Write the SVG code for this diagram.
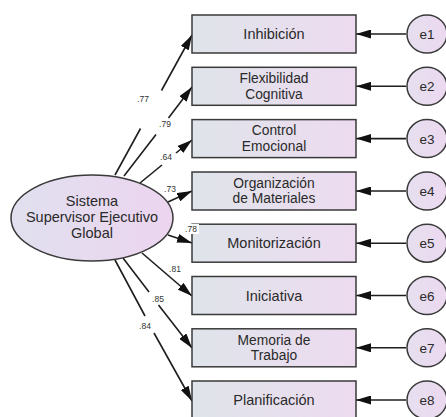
<svg xmlns="http://www.w3.org/2000/svg" width="446" height="417" viewBox="0 0 446 417">
<defs>
<linearGradient id="gBox" x1="0" y1="0" x2="1" y2="0">
<stop offset="0" stop-color="#dfe4ea"/>
<stop offset="1" stop-color="#eddbf0"/>
</linearGradient>
<linearGradient id="gEll" x1="0" y1="0" x2="1" y2="0">
<stop offset="0" stop-color="#e1e0ef"/>
<stop offset="1" stop-color="#ecd5ef"/>
</linearGradient>
<linearGradient id="gErr" x1="0" y1="0" x2="1" y2="0">
<stop offset="0" stop-color="#e6e0ef"/>
<stop offset="1" stop-color="#ecd8f0"/>
</linearGradient>
<marker id="ah" markerWidth="15" markerHeight="9" refX="15" refY="4.5" orient="auto" markerUnits="userSpaceOnUse">
<path d="M0,0 L15,4.5 L0,9 Z" fill="#111"/>
</marker>
</defs>
<style>
.box{fill:url(#gBox);stroke:#3a3a3a;stroke-width:1.5}
.err{fill:url(#gErr);stroke:#3a3a3a;stroke-width:1.5}
.lat{fill:url(#gEll);stroke:#3a3a3a;stroke-width:1.5}
.t{font-family:"Liberation Sans",Arial,sans-serif;font-size:14.5px;fill:#2a2a2a;text-anchor:middle}
.t2{font-family:"Liberation Sans",Arial,sans-serif;font-size:13.8px;fill:#2a2a2a;text-anchor:middle}
.te{font-family:"Liberation Sans",Arial,sans-serif;font-size:13.5px;fill:#2a2a2a;text-anchor:middle}
.c{stroke:#1e1e1e;stroke-width:1.6;fill:none}
.lb{font-family:"Liberation Sans",Arial,sans-serif;font-size:8.5px;fill:#333;text-anchor:middle}
</style>
<g id="connectors">
<path class="c" d="M115,175 L140.5,128.5 M161.5,90.5 L192,35" marker-end="url(#ah)"/>
<path class="c" d="M124,176 L156,134.5 M168.5,118 L192,87" marker-end="url(#ah)"/>
<path class="c" d="M140,183 L162,165 M176,153 L192,140" marker-end="url(#ah)"/>
<path class="c" d="M168,202 L192,191" marker-end="url(#ah)"/>
<path class="c" d="M168,235 L192,243" marker-end="url(#ah)"/>
<path class="c" d="M142,253 L192,296" marker-end="url(#ah)"/>
<path class="c" d="M123,258 L149,292 M158.5,305 L192,348" marker-end="url(#ah)"/>
<path class="c" d="M115,260 L145,316 M154,333 L192,401" marker-end="url(#ah)"/>
<path class="c" d="M406,34 L356,34" marker-end="url(#ah)"/>
<path class="c" d="M406,86.3 L356,86.3" marker-end="url(#ah)"/>
<path class="c" d="M406,138.6 L356,138.6" marker-end="url(#ah)"/>
<path class="c" d="M406,191 L356,191" marker-end="url(#ah)"/>
<path class="c" d="M406,243.2 L356,243.2" marker-end="url(#ah)"/>
<path class="c" d="M406,295.5 L356,295.5" marker-end="url(#ah)"/>
<path class="c" d="M406,347.8 L356,347.8" marker-end="url(#ah)"/>
<path class="c" d="M406,400 L356,400" marker-end="url(#ah)"/>
<text class="lb" x="143" y="102">.77</text>
<text class="lb" x="165" y="127">.79</text>
<text class="lb" x="166" y="160">.64</text>
<text class="lb" x="170" y="192">.73</text>
<text class="lb" x="175" y="272">.81</text>
<text class="lb" x="158" y="302">.85</text>
<text class="lb" x="145" y="329">.84</text>
</g>
<g id="latent">
<ellipse class="lat" cx="92" cy="218" rx="81" ry="43"/>
<text class="t" x="92" y="206">Sistema</text>
<text class="t" x="92" y="222">Supervisor Ejecutivo</text>
<text class="t" x="92" y="238">Global</text>
</g>
<g id="obs1"><rect class="box" x="192" y="15" width="164" height="38"/><text class="t" x="274" y="39">Inhibición</text></g>
<g id="obs2"><rect class="box" x="192" y="67.3" width="164" height="38"/><text class="t2" x="274" y="83">Flexibilidad</text><text class="t2" x="274" y="98.5">Cognitiva</text></g>
<g id="obs3"><rect class="box" x="192" y="119.6" width="164" height="38"/><text class="t2" x="274" y="135.3">Control</text><text class="t2" x="274" y="150.8">Emocional</text></g>
<g id="obs4"><rect class="box" x="192" y="172" width="164" height="38"/><text class="t2" x="274" y="187.7">Organización</text><text class="t2" x="274" y="203.2">de Materiales</text></g>
<g id="obs5"><rect class="box" x="192" y="224.2" width="164" height="38"/><text class="t" x="274" y="248">Monitorización</text></g>
<g id="obs6"><rect class="box" x="192" y="276.5" width="164" height="38"/><text class="t" x="274" y="300.5">Iniciativa</text></g>
<g id="obs7"><rect class="box" x="192" y="328.8" width="164" height="38"/><text class="t2" x="274" y="344.5">Memoria de</text><text class="t2" x="274" y="360">Trabajo</text></g>
<g id="obs8"><rect class="box" x="192" y="381" width="164" height="38"/><text class="t" x="274" y="405">Planificación</text></g>
<g id="label78"><rect x="183" y="224" width="16" height="10" fill="#fff"/><text class="lb" x="191" y="232">.78</text></g>
<g id="e1"><ellipse class="err" cx="427" cy="34" rx="20" ry="19"/><text class="te" x="427" y="39">e1</text></g>
<g id="e2"><ellipse class="err" cx="427" cy="86.3" rx="20" ry="19"/><text class="te" x="427" y="91">e2</text></g>
<g id="e3"><ellipse class="err" cx="427" cy="138.6" rx="20" ry="19"/><text class="te" x="427" y="143.5">e3</text></g>
<g id="e4"><ellipse class="err" cx="427" cy="191" rx="20" ry="19"/><text class="te" x="427" y="196">e4</text></g>
<g id="e5"><ellipse class="err" cx="427" cy="243.2" rx="20" ry="19"/><text class="te" x="427" y="248">e5</text></g>
<g id="e6"><ellipse class="err" cx="427" cy="295.5" rx="20" ry="19"/><text class="te" x="427" y="300.5">e6</text></g>
<g id="e7"><ellipse class="err" cx="427" cy="347.8" rx="20" ry="19"/><text class="te" x="427" y="352.5">e7</text></g>
<g id="e8"><ellipse class="err" cx="427" cy="400" rx="20" ry="19"/><text class="te" x="427" y="405">e8</text></g>
</svg>
